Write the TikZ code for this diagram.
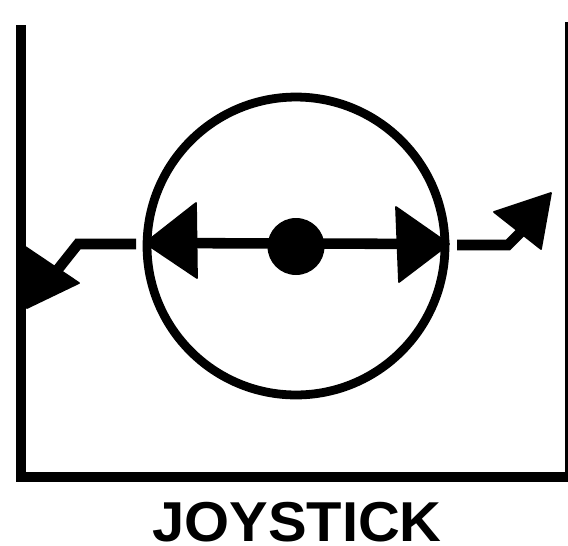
\documentclass[tikz,border=0pt]{standalone}
\usepackage{fontspec}
\setmainfont[FakeStretch=1.03]{Liberation Sans}
\tikzset{
  wire/.style={line width=6pt},
  edgeline/.style={line width=2.2pt},
  head/.style={fill=black,draw=black,line width=1pt,line join=round},
}
\begin{document}
\begin{tikzpicture}[x=0.02cm,y=-0.02cm,font=\bfseries\fontsize{32}{32}\selectfont]
            \useasboundingbox (0,0) rectangle (568,545);
            % housing
            \coordinate (walltop) at (21,25);
            \coordinate (wallcorner) at (21,477);
            \coordinate (wallend) at (568,477);
            \coordinate (righttop) at (566.5,22);
            \coordinate (rightfoot) at (566.5,477);
            \draw[wire,line join=miter] (walltop) -- (wallcorner) -- (wallend);
            \draw[edgeline] (righttop) -- (rightfoot);
            % stick
            \node[circle,draw,line width=5pt,minimum size=5.96cm,inner sep=0pt] (ring) at (296,246) {};
            \node[circle,fill=black,minimum size=1.14cm,inner sep=0pt] (knob) at (296,246.5) {};
            \coordinate (leftend) at (145,243);
            \coordinate (rightend) at (449,244);
            \draw[wire] (leftend) -- (rightend);
            \draw[head] (leftend) -- (196,203) -- (197,278) -- cycle;
            \draw[head] (rightend) -- (396,207) -- (399,282) -- cycle;
            % wires out
            \coordinate (leftstub) at (136,244);
            \coordinate (leftbend) at (78,244);
            \coordinate (leftlow) at (55,273);
            \draw[wire] (leftstub) -- (leftbend) -- (leftlow);
            \draw[head] (24,246) -- (79,283) -- (27,308) -- cycle;
            \coordinate (rightstub) at (457,245);
            \coordinate (rightbend) at (508,245);
            \coordinate (rightlow) at (526,227);
            \draw[wire] (rightstub) -- (rightbend) -- (rightlow);
            \draw[head] (494,212) -- (551,193) -- (541,249) -- cycle;
            \node[inner sep=0pt] (title) at (297,522) {JOYSTICK};
        \end{tikzpicture}
\end{document}
